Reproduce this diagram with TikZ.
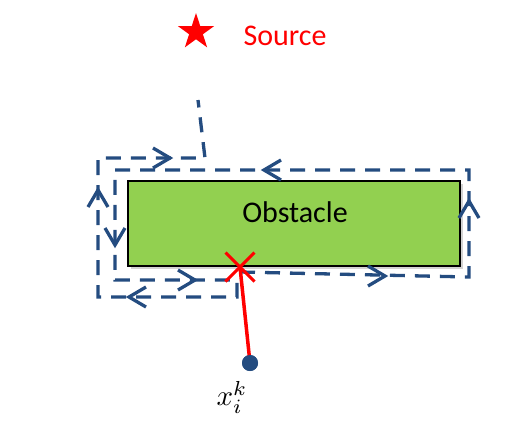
\documentclass[tikz,border=0pt]{standalone}
\usepackage{fontspec}
\setmainfont{Carlito}
\usetikzlibrary{shapes.geometric,shapes.misc,shadows}
\definecolor{pathblue}{RGB}{36,76,128}
\definecolor{obsgreen}{RGB}{146,208,80}
\tikzset{
  walk/.style={draw=pathblue, line width=3.3pt, dash pattern=on 15pt off 10pt},
  chev/.pic={\draw[pathblue, solid, line width=3.3pt, line join=miter] (-17,-10) -- (0,0) -- (-17,10);},
  bigtext/.style={font=\fontsize{30}{30}\selectfont, inner sep=0pt}
}
\begin{document}
\begin{tikzpicture}[x=1pt,y=-1pt]
\path[use as bounding box] (0,0) rectangle (530,424);
% source
\node[star, star points=5, star point ratio=2.618, fill=red, minimum size=38pt, inner sep=0pt] (src) at (196,32) {};
\node[bigtext, text=red] (srctext) at (285,36) {Source};
% obstacle
\node[draw=black, line width=2.5pt, fill=obsgreen, minimum width=332pt, minimum height=85pt, inner sep=0pt,
      drop shadow={opacity=0.35, shadow xshift=3pt, shadow yshift=-3pt}] (obs) at (294,223.5) {};
\node[bigtext] (obstext) at (295,212) {Obstacle};
% walking path
\coordinate (p0) at (240,272);
\coordinate (p1) at (469,277);
\coordinate (p2) at (469,170);
\coordinate (p3) at (115,170);
\coordinate (p4) at (115,280);
\coordinate (p5) at (237,280);
\coordinate (p6) at (237,297);
\coordinate (p7) at (98,297);
\coordinate (p8) at (98,158);
\coordinate (p9) at (205,158);
\coordinate (p10) at (198,100);
\draw[walk] (p0) -- (p1) -- (p2) -- (p3) -- (p4) -- (p5) -- (p6) -- (p7) -- (p8) -- (p9) -- (p10);
\pic at (385,276) {chev};
\pic[rotate=90] at (469,201) {chev};
\pic[rotate=180] at (264,170) {chev};
\pic[rotate=-90] at (115,245) {chev};
\pic at (195,280) {chev};
\pic[rotate=180] at (129,297) {chev};
\pic[rotate=90] at (98,190) {chev};
\pic at (170,158) {chev};
% robot
\node[circle, fill=pathblue, minimum size=16pt, inner sep=0pt] (xi) at (250,363) {};
\node[cross out, draw=red, line width=3pt, minimum size=26pt, inner sep=0pt] (hit) at (240,267) {};
\draw[red, line width=3.5pt] (xi.center) -- (hit.center);
\node[circle, fill=pathblue, minimum size=16pt, inner sep=0pt] at (xi) {};
\node[inner sep=0pt, scale=2.9] (lbl) at (232,397) {$x_i^k$};
\end{tikzpicture}
\end{document}
